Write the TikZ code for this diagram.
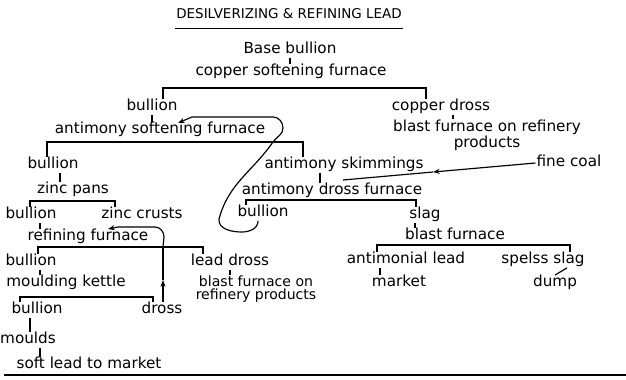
\documentclass[tikz,border=0pt]{standalone}
\usepackage{fontspec}
\setmainfont{DejaVu Sans}
\usetikzlibrary{arrows.meta}

\begin{document}
\begin{tikzpicture}[
    x=0.03cm, y=0.03cm,
    line width=1pt,
    lbl/.style={font=\fontsize{13}{11}\selectfont, inner sep=0.5pt, text height=9pt, text depth=2.5pt},
    lbltwo/.style={font=\fontsize{13}{11}\selectfont, inner sep=0.5pt, align=center},
    arrow/.style={-{Stealth[length=2mm]}}
  ]
    \useasboundingbox (0,0) rectangle (626,379);

    \node[lbl, font=\fontsize{11.5}{12}\selectfont] (title) at (289,364) {DESILVERIZING \& REFINING LEAD};
    \node[lbl] (base) at (290,329) {Base bullion};
    \node[lbl] (csf) at (291,307) {copper softening furnace};
    \node[lbl] (bull1) at (152,272) {bullion};
    \node[lbl] (cdross) at (441,272) {copper dross};
    \node[lbltwo] (bfr) at (487,244) {blast furnace on refinery\\products};
    \node[lbl] (asf) at (160,249) {antimony softening furnace};
    \node[lbl] (bull2) at (53,214) {bullion};
    \node[lbl] (skim) at (344,214) {antimony skimmings};
    \node[lbl] (coal) at (569,216) {fine coal};
    \node[lbl] (adf) at (332,188) {antimony dross furnace};
    \node[lbl] (zp) at (73,189) {zinc pans};
    \node[lbl] (bull3) at (31,164) {bullion};
    \node[lbl] (zcr) at (142,164) {zinc crusts};
    \node[lbl] (bull6) at (263,166) {bullion};
    \node[lbl] (slag) at (425,164) {slag};
    \node[lbl] (bf) at (455,143) {blast furnace};
    \node[lbl] (rf) at (88,142) {refining furnace};
    \node[lbl] (bull4) at (31,117) {bullion};
    \node[lbl] (ldross) at (230,117) {lead dross};
    \node[lbl] (antl) at (406,119) {antimonial lead};
    \node[lbl] (spelss) at (543,119) {spelss slag};
    \node[lbl] (mk) at (66,96) {moulding kettle};
    \node[lbltwo, font=\fontsize{12}{10.5}\selectfont] (bfr2) at (256,90) {blast furnace on\\refinery products};
    \node[lbl] (market) at (399,96) {market};
    \node[lbl] (dump) at (555,96) {dump};
    \node[lbl] (bull5) at (37,69) {bullion};
    \node[lbl] (dross) at (162,69) {dross};
    \node[lbl] (moulds) at (28,39) {moulds};
    \node[lbl] (soft) at (89,14) {soft lead to market};

    \coordinate (b1l) at (163,291); \coordinate (b1r) at (426,291);
    \coordinate (b2l) at (47,237);  \coordinate (b2r) at (303,237);
    \coordinate (b3l) at (30,178);  \coordinate (b3r) at (115,178);
    \coordinate (b4l) at (38,132);  \coordinate (b4r) at (203,132);
    \coordinate (b5l) at (20,82);   \coordinate (b5r) at (153,82);
    \coordinate (b6l) at (246,179); \coordinate (b6r) at (416,179);
    \coordinate (b7l) at (377,134); \coordinate (b7r) at (570,134);
    \coordinate (sbjoin) at (273,237);
    \coordinate (rfjoin) at (163,132);
    \coordinate (asfin) at (178,256);
    \coordinate (rfin) at (108,150);
    \coordinate (coalmid) at (433,207);
    \coordinate (coalend) at (343,199);
    \coordinate (drossmid) at (163,99);

    \draw ([shift={(0,-6)}]title.south west) -- ([shift={(0,-6)}]title.south east);

    \draw (bull1.north -| b1l) -- (b1l) -- (b1r) -- (cdross.north -| b1r);
    \draw (bull2.north -| b2l) -- (b2l) -- (b2r) -- (skim.north -| b2r);
    \draw (bull3.north -| b3l) -- (b3l) -- (b3r) -- (zcr.north -| b3r);
    \draw (bull4.north -| b4l) -- (b4l) -- (b4r) -- (ldross.north -| b4r);
    \draw (bull5.north -| b5l) -- (b5l) -- (b5r) -- (dross.north -| b5r);
    \draw (bull6.north -| b6l) -- (b6l) -- (b6r) -- (slag.north -| b6r);
    \draw (antl.north -| b7l) -- (b7l) -- (b7r) -- (spelss.north -| b7r);

    \draw (base.south) -- (base.south |- csf.north);
    \draw (bull1.south) -- (bull1.south |- asf.north);
    \draw ([shift={(12,0)}]cdross.south) -- ([shift={(12,0)}]cdross.south |- bfr.north);
    \draw ([shift={(7,0)}]bull2.south) -- ([shift={(7,0)}]bull2.south |- zp.north);
    \draw ([shift={(-24,0)}]skim.south) -- ([shift={(-24,0)}]skim.south |- adf.north);
    \draw ([shift={(9,0)}]bull3.south) -- ([shift={(9,0)}]bull3.south |- rf.north);
    \draw ([shift={(-10,0)}]slag.south) -- ([shift={(-10,0)}]slag.south |- bf.north);
    \draw ([shift={(9,0)}]bull4.south) -- ([shift={(9,0)}]bull4.south |- mk.north);
    \draw (ldross.south) -- (ldross.south |- bfr2.north);
    \draw ([shift={(-26,0)}]antl.south) -- ([shift={(-26,0)}]antl.south |- market.north);
    \draw ([shift={(24,0)}]spelss.south) -- (dump.north);
    \draw ([shift={(-7,0)}]bull5.south) -- ([shift={(-7,0)}]bull5.south |- moulds.north);
    \draw ([shift={(12,0)}]moulds.south) -- ([shift={(12,0)}]moulds.south |- soft.north);

    \draw[arrow] ([shift={(-5,0)}]bull6.south) to[out=-90,in=0] (242,147) to[out=180,in=-95] (219,160)
        to[out=75,in=-125] (sbjoin) to[out=55,in=-90] (283,251) to[out=90,in=0] (273,262) -- (192,262) -- (asfin);
    \draw[arrow] (rfjoin) -- (164,142) to[out=90,in=0] (155,152) -- (118,152) -- (rfin);
    \draw[arrow] (coal.west) -- (coalmid);
    \draw (coalmid) -- (coalend);
    \draw[arrow] (dross.north -| drossmid) -- (drossmid);
    \draw (drossmid) -- (rfjoin);

    \draw[line width=1.4pt] (4,4) -- (626,4);
  \end{tikzpicture}
\end{document}
